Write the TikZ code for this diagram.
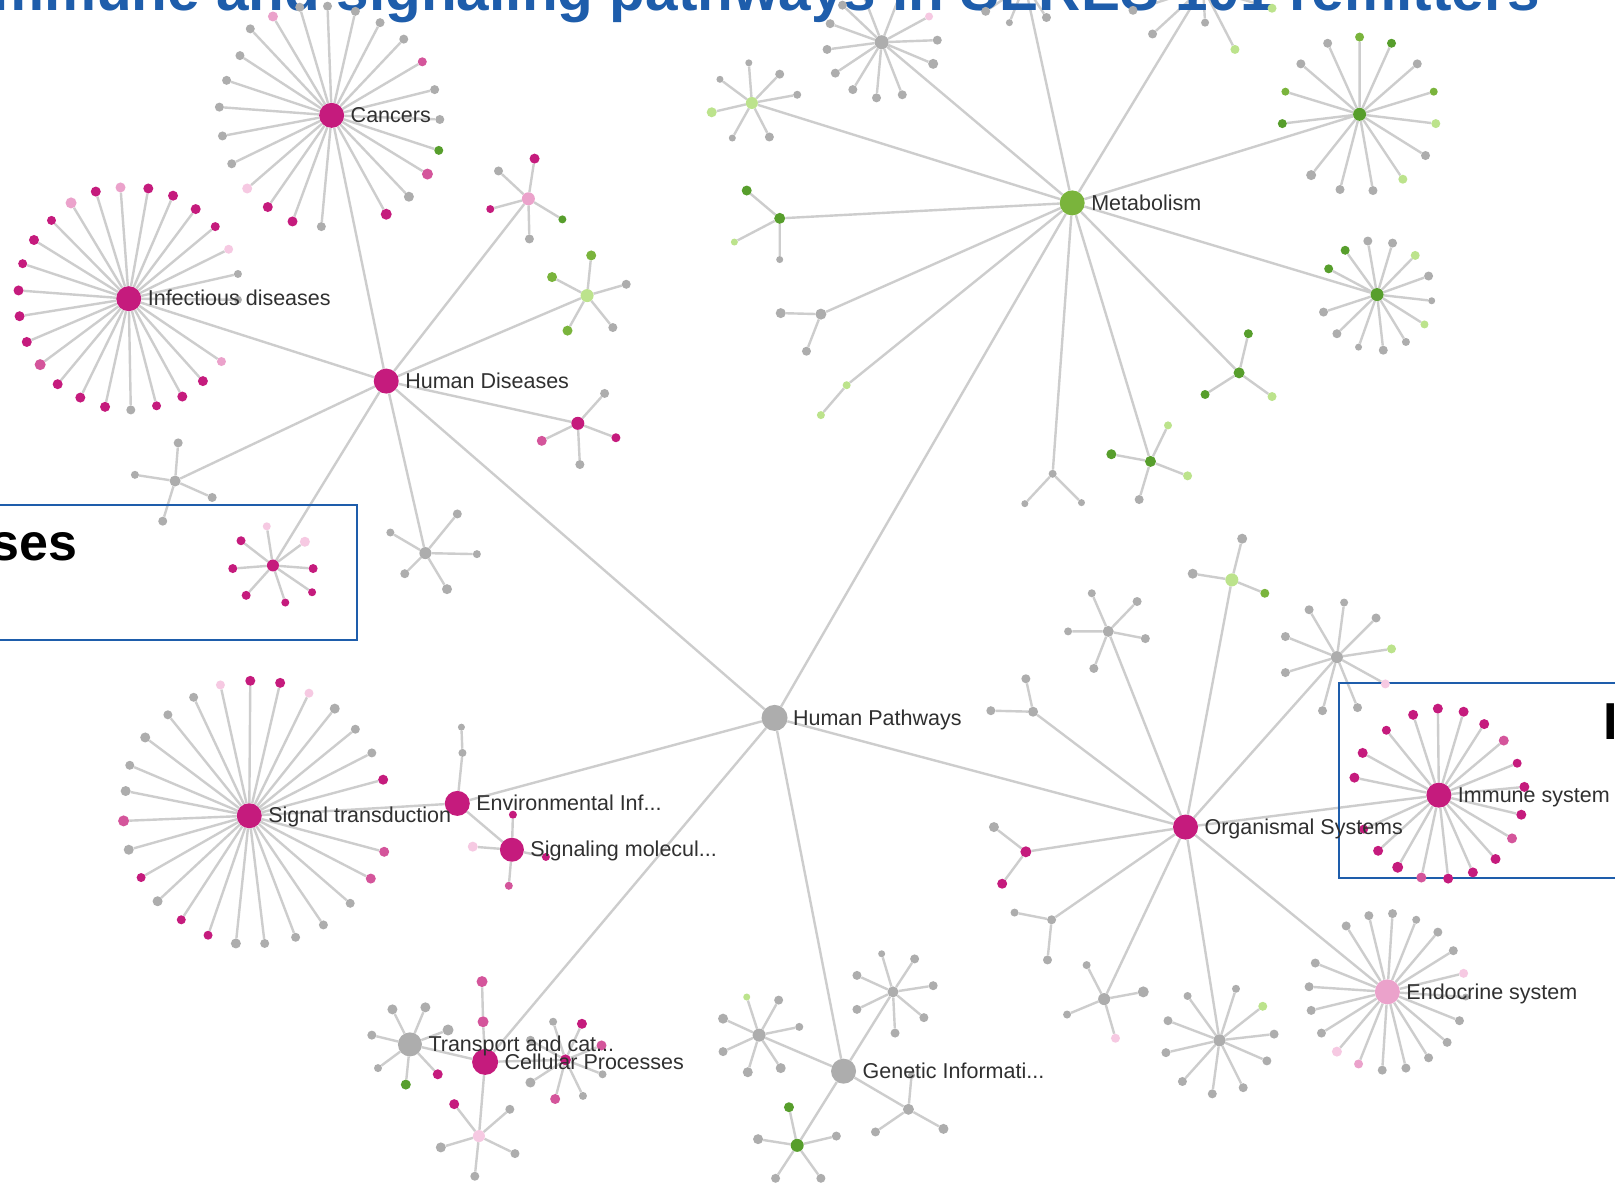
\documentclass[tikz,border=0pt]{standalone}
\usepackage{fontspec}
\setmainfont{Liberation Sans}
\usetikzlibrary{calc}
\definecolor{mg}{HTML}{C51B7D}
\definecolor{mp}{HTML}{D4559B}
\definecolor{lp}{HTML}{EBA2CB}
\definecolor{xp}{HTML}{F6C9E2}
\definecolor{dg}{HTML}{579E2C}
\definecolor{mgr}{HTML}{7AB43C}
\definecolor{lg}{HTML}{BCE38C}
\definecolor{gy}{HTML}{ADADAD}
\definecolor{eg}{HTML}{CDCDCD}
\definecolor{tb}{HTML}{1E5DAB}
\definecolor{lbltxt}{HTML}{303030}
\pgfdeclarelayer{bg}
\pgfsetlayers{bg,main}
\tikzset{
  dot/.style={circle,inner sep=0pt,draw=none},
  edge/.style={draw=eg,line width=2.4pt},
  lbl/.style={font=\fontsize{21.5}{24}\selectfont,text=lbltxt,inner sep=0pt,anchor=base west},
  bigtxt/.style={font=\fontsize{52}{60}\selectfont\bfseries,inner sep=0pt},
  titletxt/.style={font=\fontsize{58.5}{66}\selectfont\bfseries,inner sep=0pt,text=tb},
  boxline/.style={draw=tb,line width=2pt}
}
\gdef\edgelist{}
\newcommand\mkspokes[2]{\foreach \px/\py/\pc/\ps [count=\i] in {#2}{%
  \node[dot,fill=\pc,minimum size=\ps pt] (#1-\i) at (\px,\py) {};
  \xdef\edgelist{\edgelist (#1)--(#1-\i)}}}
\newcommand\mkhub[6]{%
  \node[dot,fill=#5,minimum size=#6pt] (#1) at (#3,#4) {};
  \xdef\edgelist{\edgelist (#2)--(#1)}}
\begin{document}
\begin{tikzpicture}[x=1.03pt,y=-1.03pt]
\path[use as bounding box] (0,0) rectangle (1568,1148);
\begin{pgfonlayer}{bg}
\fill[white] (0,0) rectangle (1568,1148);
\end{pgfonlayer}
\clip (0,0) rectangle (1568,1148);
\node[titletxt,anchor=base east] (title) at (1495,10) {Immune and signaling pathways in SERES 101 remitters};
\draw[boxline] (-5,490) rectangle (347,621);
\draw[boxline] (1300,663) rectangle (1590,852);
\node[bigtxt,anchor=base east] (boxtxt1) at (75,544) {ses};
\node[bigtxt,anchor=base west] (boxtxt2) at (1557,718) {I};
% main hubs
\node[dot,fill=gy,minimum size=26pt] (HP) at (752,697) {};
\mkhub{HD}{HP}{375}{370}{mg}{25}
\mkhub{MET}{HP}{1041}{197}{mgr}{25}
\mkhub{ORG}{HP}{1151}{803}{mg}{25}
\mkhub{GEN}{HP}{819}{1040}{gy}{25}
\mkhub{CEL}{HP}{471}{1031}{mg}{26}
\mkhub{ENV}{HP}{444}{780}{mg}{25}
\mkhub{CAN}{HD}{322}{112}{mg}{25}
\mkhub{INF}{HD}{125}{290}{mg}{25}
\mkhub{SIG}{ENV}{242}{792}{mg}{25}
\mkhub{SMO}{ENV}{497}{825}{mg}{24}
\mkhub{TRA}{CEL}{398}{1014}{gy}{24}
\mkhub{IMM}{ORG}{1397}{772}{mg}{25}
\mkhub{END}{ORG}{1347}{963}{lp}{25}
% Human diseases
\mkspokes{CAN}{213/104/gy/9, 220/78/gy/9, 233/54/gy/9, 243/28/gy/9, 265/16/lp/10, 291/7/gy/9, 318/6/gy/9, 345/11/gy/9, 369/22/gy/9, 392/38/gy/9, 410/60/mp/9, 422/87/gy/9, 427/116/gy/9, 426/146/dg/9, 415/169/mp/11, 397/191/gy/10, 375/208/mg/11, 312/220/gy/9, 284/215/mg/10, 260/201/mg/10, 240/183/xp/10, 225/159/gy/9, 216/132/gy/9}
\mkspokes{INF}{69/197/lp/11, 93/186/mg/10, 117/182/lp/10, 144/183/mg/10, 168/190/mg/10, 190/203/mg/10, 209/220/mg/9, 222/242/xp/9, 231/266/gy/8, 231/291/gy/8, 215/351/lp/9, 197/370/mg/10, 177/385/mg/10, 152/394/mg/9, 127/398/gy/9, 102/395/mg/10, 78/386/mg/10, 56/373/mg/10, 39/354/mp/11, 26/332/mg/10, 19/307/mg/10, 18/282/mg/10, 22/256/mg/9, 33/233/mg/10, 50/214/mg/9}
\mkhub{hd1}{HD}{513}{193}{lp}{13}
\mkspokes{hd1}{519/154/mg/10, 484/166/gy/9, 476/203/mg/8, 514/232/gy/9, 546/213/dg/8}
\mkhub{hd2}{HD}{570}{287}{lg}{13}
\mkspokes{hd2}{574/248/mgr/10, 536/269/mgr/10, 551/321/mgr/10, 608/276/gy/9, 595/318/gy/9}
\mkhub{hd3}{HD}{561}{411}{mg}{13}
\mkspokes{hd3}{587/382/gy/9, 598/425/mg/9, 526/428/mp/10, 563/451/gy/9}
\mkhub{hd4}{HD}{413}{537}{gy}{12}
\mkspokes{hd4}{444/499/gy/9, 379/517/gy/8, 463/538/gy/8, 393/557/gy/9, 434/572/gy/10}
\mkhub{hd5}{HD}{265}{549}{mg}{12}
\mkspokes{hd5}{259/511/xp/8, 296/526/xp/10, 234/525/mg/9, 226/552/mg/9, 304/552/mg/9, 239/578/mg/9, 277/585/mg/8, 303/575/mg/8}
\mkhub{hd6}{HD}{170}{467}{gy}{11}
\mkspokes{hd6}{173/430/gy/9, 131/461/gy/8, 206/483/gy/9, 158/506/gy/9}
% Metabolism
\mkhub{m1}{MET}{856}{41}{gy}{14}
\mkspokes{m1}{806/23/gy/9, 803/48/gy/9, 811/71/gy/9, 828/87/gy/9, 851/95/gy/9, 876/92/gy/9, 906/62/gy/10, 910/39/gy/9, 902/16/xp/8, 818/5/gy/9, 837/-8/gy/9, 875/-8/gy/9}
\mkhub{m2}{MET}{995}{-15}{gy}{12}
\mkspokes{m2}{957/11/gy/9, 980/22/gy/7, 1016/17/gy/9}
\mkhub{m3}{MET}{1168}{-12}{gy}{12}
\mkspokes{m3}{1119/33/gy/9, 1100/10/gy/9, 1199/48/lg/9, 1235/8/lg/9, 1170/22/gy/8}
\mkhub{m4}{MET}{1320}{111}{dg}{13}
\mkspokes{m4}{1289/42/gy/9, 1320/36/mgr/9, 1351/42/dg/9, 1376/62/gy/9, 1392/89/mgr/8, 1394/120/lg/9, 1384/151/gy/9, 1362/174/lg/9, 1333/185/gy/9, 1301/184/gy/9, 1273/170/gy/10, 1245/120/dg/9, 1248/89/mgr/8, 1263/62/gy/9}
\mkhub{m5}{MET}{1337}{286}{dg}{13}
\mkspokes{m5}{1306/243/dg/9, 1328/234/gy/9, 1352/236/gy/9, 1374/248/lg/9, 1387/268/gy/9, 1390/292/gy/7, 1383/315/lg/8, 1365/332/gy/8, 1343/340/gy/9, 1319/337/gy/7, 1298/324/gy/9, 1285/303/gy/9, 1290/261/dg/9}
\mkhub{m6}{MET}{1203}{362}{dg}{11}
\mkspokes{m6}{1212/324/dg/9, 1170/383/dg/9, 1235/385/lg/9}
\mkhub{m7}{MET}{1117}{448}{dg}{11}
\mkspokes{m7}{1134/413/lg/8, 1079/441/dg/10, 1153/462/lg/9, 1106/485/gy/9}
\mkhub{m8}{MET}{1022}{460}{gy}{8}
\mkspokes{m8}{995/489/gy/7, 1050/488/gy/7}
\mkhub{m9}{MET}{797}{305}{gy}{11}
\mkspokes{m9}{758/304/gy/10, 783/341/gy/9}
\mkhub{m10}{MET}{757}{212}{dg}{11}
\mkspokes{m10}{725/185/dg/10, 713/235/lg/7, 757/252/gy/7}
\mkhub{m11}{MET}{730}{100}{lg}{12}
\mkspokes{m11}{727/61/gy/7, 699/77/gy/7, 757/72/gy/9, 774/92/gy/8, 691/109/lg/10, 711/134/gy/7, 747/133/gy/9}
\mkhub{m12}{MET}{822}{374}{lg}{8}
\mkspokes{m12}{797/403/lg/8}
% Organismal systems
\mkhub{o1}{ORG}{1196}{563}{lg}{13}
\mkspokes{o1}{1206/523/gy/10, 1158/557/gy/10, 1228/576/mgr/9}
\mkhub{o2}{ORG}{1076}{613}{gy}{11}
\mkspokes{o2}{1060/576/gy/8, 1104/584/gy/9, 1037/613/gy/8, 1112/620/gy/9, 1062/649/gy/9}
\mkhub{o3}{ORG}{1298}{638}{gy}{12}
\mkspokes{o3}{1271/592/gy/9, 1305/585/gy/8, 1336/600/gy/9, 1351/630/lg/9, 1345/664/xp/9, 1318/687/gy/9, 1284/690/gy/9, 1248/653/gy/9, 1248/618/gy/9}
\mkhub{o4}{ORG}{1003}{691}{gy}{10}
\mkspokes{o4}{996/659/gy/9, 962/690/gy/9}
\mkhub{o5}{ORG}{996}{827}{mg}{11}
\mkspokes{o5}{965/803/gy/10, 973/858/mg/10}
\mkhub{o6}{ORG}{1021}{893}{gy}{9}
\mkspokes{o6}{985/886/gy/8, 1017/932/gy/9}
\mkhub{o7}{ORG}{1072}{970}{gy}{12}
\mkspokes{o7}{1055/937/gy/8, 1110/963/gy/11, 1036/985/gy/8, 1083/1008/xp/9}
\mkhub{o8}{ORG}{1184}{1010}{gy}{12}
\mkspokes{o8}{1153/967/gy/8, 1200/960/gy/8, 1226/977/lg/9, 1237/1004/gy/9, 1230/1030/gy/9, 1207/1056/gy/9, 1177/1062/gy/9, 1148/1050/gy/9, 1132/1022/gy/9, 1134/991/gy/9}
\mkspokes{IMM}{1372/694/mg/10, 1396/688/mg/10, 1421/691/mg/10, 1441/703/mg/10, 1460/719/mp/10, 1473/741/mg/9, 1480/764/mg/10, 1477/791/mg/10, 1468/814/mp/10, 1452/834/mg/10, 1430/847/mg/10, 1406/853/mg/10, 1380/852/mp/10, 1357/842/mg/11, 1338/826/mg/10, 1324/805/mg/9, 1315/755/mg/10, 1323/731/mg/10, 1346/709/mg/9}
\mkspokes{END}{1307/899/gy/9, 1329/889/gy/9, 1352/887/gy/9, 1375/893/gy/8, 1396/905/gy/9, 1411/923/gy/9, 1421/945/xp/9, 1423/968/gy/7, 1417/991/gy/9, 1405/1012/gy/9, 1387/1027/gy/9, 1365/1037/gy/9, 1342/1039/gy/9, 1319/1033/lp/9, 1298/1021/xp/10, 1283/1003/gy/9, 1273/981/gy/9, 1271/958/gy/9, 1277/935/gy/9}
% Genetic information
\mkhub{g1}{GEN}{737}{1005}{gy}{13}
\mkspokes{g1}{725/968/lg/7, 756/971/gy/9, 702/989/gy/10, 776/997/gy/8, 702/1021/gy/9, 726/1041/gy/10, 758/1037/gy/10}
\mkhub{g2}{GEN}{867}{963}{gy}{11}
\mkspokes{g2}{856/926/gy/7, 888/931/gy/9, 832/947/gy/9, 906/957/gy/9, 832/980/gy/9, 897/988/gy/9, 869/1003/gy/9}
\mkhub{g3}{GEN}{882}{1077}{gy}{11}
\mkspokes{g3}{885/1044/gy/7, 850/1099/gy/9, 916/1096/gy/10}
\mkhub{g4}{GEN}{774}{1112}{dg}{13}
\mkspokes{g4}{766/1075/dg/10, 736/1106/gy/10, 812/1103/gy/9, 753/1144/gy/9, 797/1144/gy/9}
% Cellular processes
\mkspokes{TRA}{381/980/gy/10, 413/978/gy/10, 361/1005/gy/9, 435/1000/gy/11, 367/1037/gy/8, 394/1053/dg/10, 425/1043/mg/10}
\mkhub{c1}{CEL}{469}{992}{mp}{11}
\mkspokes{c1}{468/953/mp/11}
\mkhub{c2}{CEL}{549}{1029}{mg}{11}
\mkspokes{c2}{537/992/gy/8, 565/994/mg/10, 584/1015/mp/10, 585/1043/gy/8, 566/1064/gy/8, 539/1067/mp/10, 515/1051/gy/10, 515/1010/gy/9}
\mkhub{c3}{CEL}{465}{1103}{xp}{12}
\mkspokes{c3}{441/1072/mg/10, 495/1077/gy/9, 428/1114/gy/10, 500/1120/gy/9, 461/1142/gy/9}
% Environmental information
\mkhub{e1}{ENV}{449}{731}{gy}{8}
\mkspokes{e1}{448/706/gy/7}
\mkspokes{SMO}{498/791/mg/8, 459/822/xp/10, 494/860/mp/8, 530/832/mg/8}
\mkspokes{SIG}{214/665/xp/9, 243/661/mg/10, 272/663/mg/10, 300/673/xp/9, 325/688/gy/10, 345/708/gy/9, 361/731/gy/9, 372/757/mg/10, 373/827/mp/10, 360/853/mp/10, 340/877/gy/9, 314/898/gy/9, 287/910/gy/9, 257/916/gy/9, 229/916/gy/10, 202/908/mg/9, 176/893/mg/9, 153/875/gy/10, 137/852/mg/9, 125/825/gy/10, 120/797/mp/11, 122/768/gy/10, 126/743/gy/9, 141/716/gy/10, 163/694/gy/9, 188/677/gy/9}
% all connectors, drawn beneath the nodes
\begin{pgfonlayer}{bg}
\draw[edge] \edgelist;
\end{pgfonlayer}
% labels
\node[lbl] (HP-l) at ($(HP.east)+(5,7)$) {Human Pathways};
\node[lbl] (MET-l) at ($(MET.east)+(6,7)$) {Metabolism};
\node[lbl] (HD-l) at ($(HD.east)+(6,7)$) {Human Diseases};
\node[lbl] (CAN-l) at ($(CAN.east)+(6,7)$) {Cancers};
\node[lbl] (INF-l) at ($(INF.east)+(6,7)$) {Infectious diseases};
\node[lbl] (ORG-l) at ($(ORG.east)+(6,7)$) {Organismal Systems};
\node[lbl] (IMM-l) at ($(IMM.east)+(6,7)$) {Immune system};
\node[lbl] (END-l) at ($(END.east)+(6,7)$) {Endocrine system};
\node[lbl] (GEN-l) at ($(GEN.east)+(6,7)$) {Genetic Informati...};
\node[lbl] (CEL-l) at ($(CEL.east)+(6,7)$) {Cellular Processes};
\node[lbl] (TRA-l) at ($(TRA.east)+(6,7)$) {Transport and cat...};
\node[lbl] (SIG-l) at ($(SIG.east)+(6,7)$) {Signal transduction};
\node[lbl] (ENV-l) at ($(ENV.east)+(6,7)$) {Environmental Inf...};
\node[lbl] (SMO-l) at ($(SMO.east)+(6,7)$) {Signaling molecul...};
\end{tikzpicture}
\end{document}
